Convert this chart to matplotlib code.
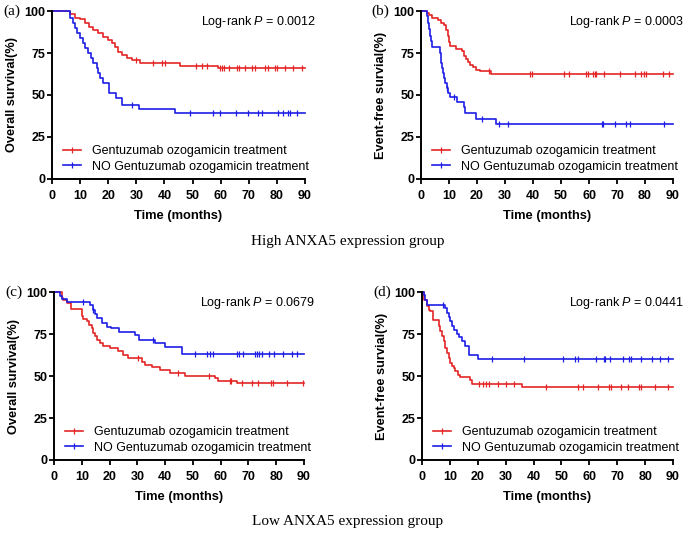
import numpy as np
import matplotlib
matplotlib.use('Agg')
import matplotlib.pyplot as plt
from matplotlib.lines import Line2D

plt.rcParams['font.family'] = ['Liberation Sans', 'DejaVu Sans']
plt.rcParams['mathtext.fontset'] = 'custom'
plt.rcParams['mathtext.rm'] = 'Liberation Sans'
plt.rcParams['mathtext.it'] = 'Liberation Sans:italic'

RED = '#E42626'
BLUE = '#1E1EE6'

# ---- data (time in months, survival in %) ----
# (a) High ANXA5, overall survival
a_red_t = [0, 6.4, 8.2, 10, 11.7, 13.3, 14.7, 16.5, 18.3, 20, 21.2, 22.4, 23.6, 24.8, 26.6, 28.4, 31.3, 45.6, 59.2]
a_red_s = [100, 98, 96, 95, 92.7, 90.7, 88.7, 86.7, 84.7, 82.7, 80.8, 78.8, 75.8, 73.8, 71.8, 70.8, 68.8, 67.5, 65.9]
a_red_c = [29.9, 36, 39, 40.2, 51.2, 53.2, 55.3, 59.6, 60.4, 61.1, 62.9, 65.8, 66.4, 68.8, 71.2, 72.1, 75.9, 76.9,
           79.3, 79.9, 82.8, 85.8, 88.8]
a_blue_t = [0, 6.4, 7.4, 8.2, 9.0, 10.0, 10.9, 11.7, 12.9, 13.8, 14.7, 15.9, 16.5, 17.1, 18.0, 20.4, 22.8, 24.8, 31.1, 43.8]
a_blue_s = [100, 95.6, 92.7, 89.7, 86.7, 83.7, 80.8, 77.8, 74.8, 71.8, 68.8, 65.9, 62.9, 59.9, 56.9, 51.0, 48.0, 44.2, 41.8, 39.4]
a_blue_c = [28.4, 49.1, 57.4, 59.6, 65.4, 69.9, 73.4, 74.6, 80.5, 82.3, 84.1, 84.7, 87]

# (b) High ANXA5, event-free survival
b_red_t = [0, 2.1, 3, 4, 6, 7, 8.3, 9, 9.5, 10, 10.5, 12.5, 14.8, 15.5, 16, 16.7, 17.5, 18.5, 19.5, 21, 25]
b_red_s = [100, 99, 97.5, 96, 94.5, 93, 91.5, 88.5, 85, 81.5, 79, 77.5, 76, 73.5, 71.5, 69.5, 68, 66.5, 65, 64, 62.3]
b_red_c = [24.2, 38.9, 39.8, 51.2, 53, 59, 59.6, 61.3, 62, 62.6, 65.3, 71, 76.3, 78.7, 79.6, 80.3, 86.5, 88.6]
b_blue_t = [0, 2.1, 2.5, 3, 3.3, 3.7, 4, 6.7, 7.0, 7.3, 7.6, 8.0, 8.3, 8.7, 9.2, 9.7, 10.5, 12.9, 15.3, 15.8, 19.8, 26.9]
b_blue_s = [100, 97, 93, 89, 85, 82, 78.5, 75, 72, 69, 66, 63, 60, 57, 54, 51, 49, 46, 43, 39.5, 36, 32.7]
b_blue_c = [9.3, 11.9, 21.8, 27.8, 30.9, 64.7, 65, 69.4, 73.2, 74.5, 86.8]

# (c) Low ANXA5, overall survival
c_red_t = [0, 2.8, 3.4, 4.6, 6.0, 10, 10.6, 12, 12.7, 13.5, 14.1, 14.7, 15.6, 16.5, 17.5, 20.1, 23.1, 24.9, 26.7,
           31.5, 32.7, 35.1, 38.1, 41.7, 47, 57.9, 59.1, 66]
c_red_s = [100, 96.4, 95, 93.4, 89.9, 85.9, 83.9, 82.5, 80.5, 78.5, 75.5, 73.6, 71.6, 69.6, 68, 66.6, 64.6, 62.6, 60.6,
           58.5, 56.5, 55.1, 53.5, 51.9, 50.3, 48.7, 47.3, 45.7]
c_red_c = [30.3, 44.7, 55.9, 63.3, 63.7, 67.7, 71.1, 73.5, 78, 78.9, 84, 89.5]
c_blue_t = [0, 2.2, 3.0, 4.6, 13.0, 14.1, 14.8, 15.3, 17.1, 18.9, 20.5, 23.3, 29.3, 30.5, 36.4, 40, 46]
c_blue_s = [100, 97.8, 95.8, 94, 92, 89.5, 87, 84.5, 81.5, 79.3, 78.3, 76.4, 74.4, 71.4, 69.6, 67.5, 63.3]
c_blue_c = [10.3, 14.1, 35.7, 50.7, 55.2, 56.1, 57.3, 65.7, 66.7, 68.1, 72.3, 72.9, 73.9, 74.7, 77.5, 79.1, 82.3,
            85.5, 87.6]

# (d) Low ANXA5, event-free survival
d_red_t = [0, 0.8, 1.8, 2.4, 3, 4, 6, 6.6, 7.2, 7.8, 8.4, 9, 9.6, 10.2, 10.8, 11.4, 12, 12.8, 13.8, 17.2, 18, 36]
d_red_s = [100, 95.4, 91.5, 89.5, 88.5, 83.5, 79.5, 76.5, 73.6, 70.6, 66.6, 63.6, 60.6, 57.6, 55.7, 54.7, 52.7, 50.7,
           49.7, 47.7, 45.3, 43.7]
d_red_c = [20.6, 21.8, 22.8, 24, 27.2, 30, 33, 44.5, 55.8, 57.6, 63, 67.2, 67.8, 71.2, 73.8, 78, 78.6, 83.4, 88.2]
d_blue_t = [0, 0.6, 1.2, 1.8, 8.4, 9, 9.6, 10.2, 10.8, 11.4, 12.6, 13.2, 14.4, 15.6, 16.8, 20]
d_blue_s = [100, 98.4, 95.4, 92, 90.5, 87.5, 85, 82.5, 79.5, 77.5, 75.1, 73.2, 70.6, 68, 62.6, 60]
d_blue_c = [7.6, 25.2, 36.6, 50.4, 55, 55.8, 62.4, 65.2, 65.8, 67.6, 72, 74.2, 75, 78.6, 82.5, 85.2, 88.2]

panels = [
    ('(a)', 'Overall survival(%)', '0.0012', (a_red_t, a_red_s, a_red_c), (a_blue_t, a_blue_s, a_blue_c)),
    ('(b)', 'Event-free survial(%)', '0.0003', (b_red_t, b_red_s, b_red_c), (b_blue_t, b_blue_s, b_blue_c)),
    ('(c)', 'Overall survival(%)', '0.0679', (c_red_t, c_red_s, c_red_c), (c_blue_t, c_blue_s, c_blue_c)),
    ('(d)', 'Event-free survial(%)', '0.0441', (d_red_t, d_red_s, d_red_c), (d_blue_t, d_blue_s, d_blue_c)),
]
rects = [[0.0747, 0.6667, 0.3635, 0.3128], [0.6049, 0.6667, 0.3621, 0.3128],
         [0.0776, 0.1434, 0.3592, 0.3128], [0.6063, 0.1434, 0.3606, 0.3128]]

labels = ['Gentuzumab ozogamicin treatment', 'NO Gentuzumab ozogamicin treatment']
t_max = 90


def km(ax, t, s, c, color):
    t = np.asarray(t, float)
    s = np.asarray(s, float)
    ax.step(np.append(t, t_max), np.append(s, s[-1]), where='post', color=color, lw=1.2, clip_on=False)
    idx = np.searchsorted(t, c, side='right') - 1
    ax.plot(c, s[idx], ls='none', marker='|', ms=4, mew=0.9, color=color, clip_on=False)


fig = plt.figure(figsize=(6.96, 5.37), dpi=100)

for (tag, ylab, p, red, blue), rect in zip(panels, rects):
    ax = fig.add_axes(rect)
    km(ax, *red, RED)
    km(ax, *blue, BLUE)
    ax.set_xlim(0, 90)
    ax.set_ylim(0, 100)
    ax.set_xticks(np.arange(0, 91, 10))
    ax.set_yticks([0, 25, 50, 75, 100])
    for sp in ['top', 'right']:
        ax.spines[sp].set_visible(False)
    for sp in ['left', 'bottom']:
        ax.spines[sp].set_linewidth(1.4)
    ax.tick_params(axis='both', direction='out', length=3.6, width=1.3, labelsize=9)
    ax.tick_params(axis='x', pad=4)
    ax.tick_params(axis='y', pad=1)
    for lb in ax.get_xticklabels() + ax.get_yticklabels():
        lb.set_fontweight('bold')
    ax.set_xlabel('Time (months)', fontsize=9.3, fontweight='bold', labelpad=6)
    ax.set_ylabel(ylab, fontsize=9.2, fontweight='bold')
    ax.yaxis.set_label_coords(-0.135, 0.5)
    ax.text(1.045, 0.935, r'Log-rank $\mathit{P}$ = ' + p, transform=ax.transAxes,
            ha='right', va='center', fontsize=9)
    ax.text(-0.16, 1.0, tag, transform=ax.transAxes, ha='center', va='center',
            fontsize=11, family='Liberation Serif')
    handles = [Line2D([], [], color=RED, lw=1.2, marker='|', ms=4, mew=0.9),
               Line2D([], [], color=BLUE, lw=1.2, marker='|', ms=4, mew=0.9)]
    ax.legend(handles, labels, loc='lower left', bbox_to_anchor=(0.02, 0.0), frameon=False,
              fontsize=9, handlelength=1.4, handletextpad=0.9, labelspacing=0.3,
              borderaxespad=0.1, numpoints=1)

fig.text(0.5, 1 - 241 / 537, 'High ANXA5 expression group', ha='center', va='center',
         fontsize=11, family='Liberation Serif')
fig.text(0.5, 1 - 521 / 537, 'Low ANXA5 expression group', ha='center', va='center',
         fontsize=11, family='Liberation Serif')

fig.savefig('out.png', dpi=100)
